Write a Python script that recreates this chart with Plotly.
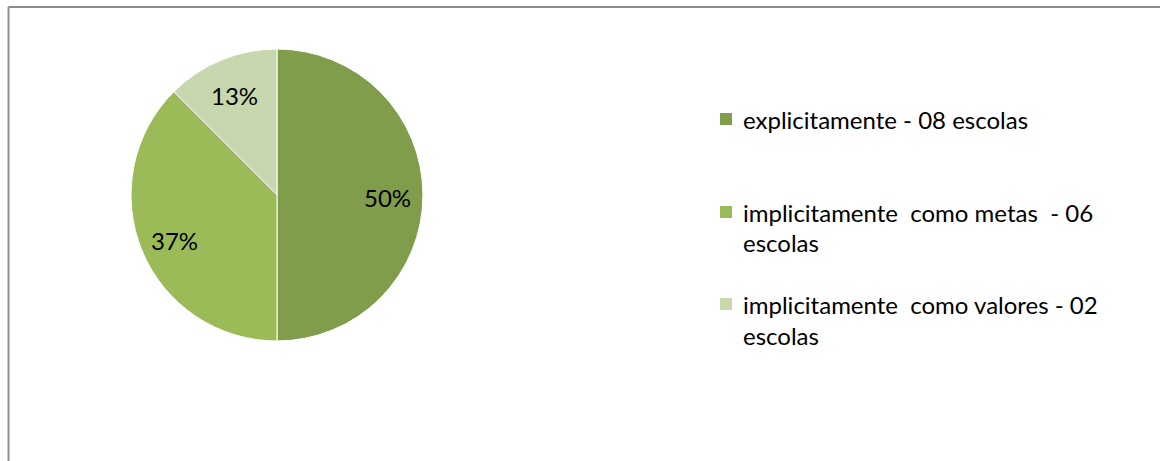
import math
import plotly.graph_objects as go

W, H = 1160, 461

categories = ["explicitamente - 08 escolas",
              "implicitamente  como metas  - 06 escolas",
              "implicitamente  como valores - 02 escolas"]
legend_lines = [["explicitamente - 08 escolas"],
                ["implicitamente  como metas  - 06", "escolas"],
                ["implicitamente  como valores - 02", "escolas"]]
values = [8, 6, 2]
pct_labels = ["50%", "37%", "13%"]
colors = ["#7F9D4B", "#9BBB59", "#C7D7AE"]

FONT = "Lato, Carlito, Calibri, sans-serif"

def px(x):
    return x / W

def py(y):
    return 1 - y / H

cx, cy, R = 277, 195, 146

fig = go.Figure(go.Pie(
    labels=categories,
    values=values,
    textinfo="none",
    marker=dict(colors=colors, line=dict(color="white", width=1)),
    sort=False,
    direction="clockwise",
    rotation=0,
    showlegend=False,
    hoverinfo="label+percent",
    domain=dict(x=[px(cx - R), px(cx + R)], y=[py(cy + R), py(cy - R)]),
))

annotations = []
# data labels placed along each slice's bisector (derived from the values)
total = sum(values)
cum = 0
for v, lab in zip(values, pct_labels):
    mid = (cum + v / 2) / total * 2 * math.pi
    cum += v
    lx = cx + 0.76 * R * math.sin(mid)
    ly = cy + 3 - 0.76 * R * math.cos(mid)
    annotations.append(dict(text=lab, xref="paper", yref="paper",
                            x=px(lx), y=py(ly), xanchor="center", yanchor="middle",
                            showarrow=False,
                            font=dict(family=FONT, size=24, color="black")))

border = dict(color="#8C8C8C", width=2)
shapes = [
    dict(type="line", xref="paper", yref="paper",
         x0=px(8.5), x1=1.0, y0=py(7), y1=py(7), line=border),
    dict(type="line", xref="paper", yref="paper",
         x0=px(8.5), x1=px(8.5), y0=0.0, y1=py(7), line=border),
]
entry_y = [119, 212, 304]
line_gap = 31
for i, lines in enumerate(legend_lines):
    y0 = entry_y[i]
    shapes.append(dict(type="rect", xref="paper", yref="paper",
                       x0=px(720), x1=px(732), y0=py(y0 + 6), y1=py(y0 - 6),
                       line=dict(width=0), fillcolor=colors[i]))
    for j, t in enumerate(lines):
        annotations.append(dict(text=t, xref="paper", yref="paper",
                                x=px(741), y=py(y0 + j * line_gap),
                                xanchor="left", yanchor="middle", showarrow=False,
                                font=dict(family=FONT, size=24, color="black")))

fig.update_layout(
    width=W, height=H,
    margin=dict(l=0, r=0, t=0, b=0),
    paper_bgcolor="white", plot_bgcolor="white",
    shapes=shapes, annotations=annotations,
)

fig.write_html("out.html", config={"displayModeBar": False},
               post_script="document.body.style.margin='0';document.body.style.overflow='hidden';")
